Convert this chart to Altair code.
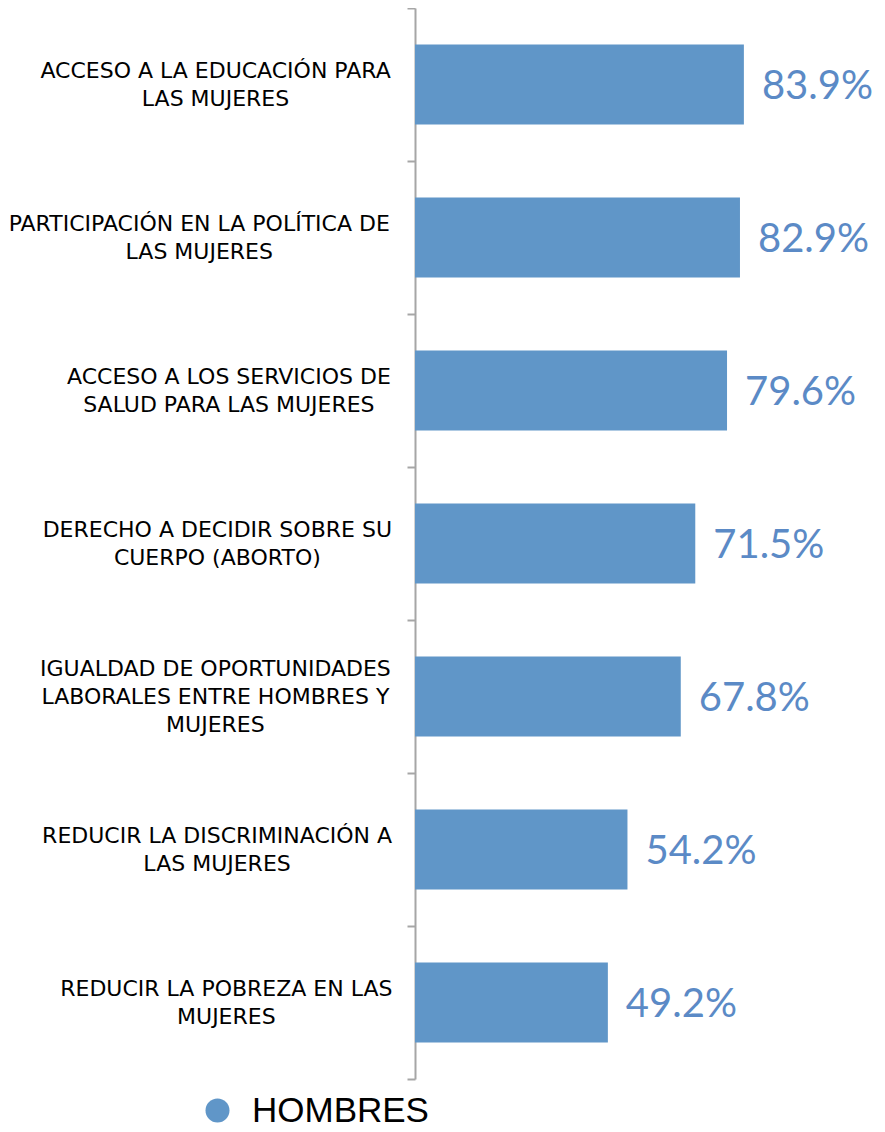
import altair as alt
import pandas as pd

categorias = [
    "ACCESO A LA EDUCACIÓN PARA\nLAS MUJERES",
    "PARTICIPACIÓN EN LA POLÍTICA DE\nLAS MUJERES",
    "ACCESO A LOS SERVICIOS DE\nSALUD PARA LAS MUJERES",
    "DERECHO A DECIDIR SOBRE SU\nCUERPO (ABORTO)",
    "IGUALDAD DE OPORTUNIDADES\nLABORALES ENTRE HOMBRES Y\nMUJERES",
    "REDUCIR LA DISCRIMINACIÓN A\nLAS MUJERES",
    "REDUCIR LA POBREZA EN LAS\nMUJERES",
]
valores = [83.9, 82.9, 79.6, 71.5, 67.8, 54.2, 49.2]
serie = "HOMBRES"

# approximate DejaVu Sans glyph widths (em) used to centre lines inside a right-aligned block
W_EM = {"A": .684, "B": .686, "C": .698, "D": .770, "E": .632, "F": .575, "G": .775,
        "H": .752, "I": .295, "J": .295, "K": .656, "L": .557, "M": .863, "N": .748,
        "O": .787, "P": .603, "Q": .787, "R": .695, "S": .635, "T": .611, "U": .732,
        "V": .684, "W": .989, "X": .685, "Y": .611, "Z": .685, " ": .318, "(": .390,
        ")": .390, "Ó": .787, "Í": .295}
FS = 22
LH = 28
H = 1071
STEP = H / len(categorias)


def text_width(s, size):
    return sum(W_EM.get(ch, .65) for ch in s) * size


lineas = [c.split("\n") for c in categorias]
lx = [-23 - max(text_width(l, FS) for l in ls) / 2 for ls in lineas]
ly = [STEP / 2 - (len(ls) - 1) * LH / 2 for ls in lineas]

df = pd.DataFrame({"categoria": categorias, "valor": valores, "serie": serie,
                   "lx": lx, "ly": ly})

xs = alt.Scale(domain=[0, 100], nice=False, zero=True)
yax = alt.Axis(labels=False, title=None, domainColor="#a6a6a6", domainWidth=2,
               tickColor="#a6a6a6", tickWidth=2, tickSize=8, tickBand="extent",
               grid=False)
y = alt.Y("categoria:N", sort=None,
          scale=alt.Scale(paddingInner=0, paddingOuter=0), axis=yax)

base = alt.Chart(df)

bars = base.mark_bar(clip=False, height={"band": 0.523}).encode(
    x=alt.X("valor:Q", scale=xs, axis=None),
    y=y,
    color=alt.Color("serie:N", scale=alt.Scale(range=["#6096c8"]),
                    legend=alt.Legend(orient="none", legendX=-215, legendY=1085,
                                      title=None, symbolType="circle", symbolSize=576,
                                      symbolStrokeWidth=0, labelFontSize=35,
                                      labelFont="Liberation Sans", labelColor="black",
                                      labelOffset=17, labelLimit=400)),
)

vals = base.transform_calculate(
    etiqueta="format(datum.valor, '.1f') + '%'"
).mark_text(align="left", baseline="middle", dx=18, dy=2, font="Lato", fontSize=40,
            color="#5b8ac6").encode(
    x=alt.X("valor:Q", scale=xs, axis=None),
    y=alt.Y("categoria:N", sort=None),
    text="etiqueta:N",
)

cats = base.mark_text(align="center", baseline="middle", lineBreak="\n",
                      font="DejaVu Sans", fontSize=FS, lineHeight=LH,
                      color="black").encode(
    x=alt.X("lx:Q", scale=None, axis=None),
    y=alt.Y("categoria:N", sort=None),
    yOffset=alt.YOffset("ly:Q", scale=None),
    text="categoria:N",
)

chart = alt.layer(bars, vals, cats).resolve_scale(x="independent").properties(
    width=392, height=H,
    autosize=alt.AutoSizeParams(type="none"),
    padding={"left": 407, "top": 0, "right": 70, "bottom": 60},
).configure_view(stroke=None)

chart.save("out.html", embed_options={"renderer": "svg", "actions": False})
